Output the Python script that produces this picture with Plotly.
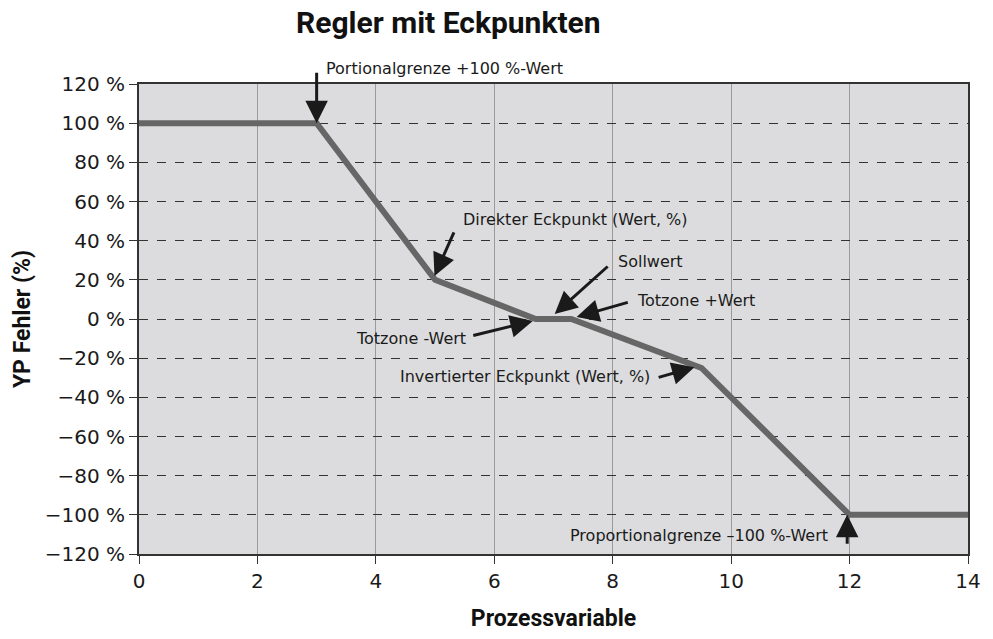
import plotly.graph_objects as go

# Controller characteristic with break points
pv = [0, 3, 5, 6.7, 7.3, 9.5, 12, 14]
yp_error = [100, 100, 20, 0, 0, -25, -100, -100]

x_ticks = [0, 2, 4, 6, 8, 10, 12, 14]
y_ticks = [120, 100, 80, 60, 40, 20, 0, -20, -40, -60, -80, -100, -120]
y_tick_text = [f"{v} %" if v >= 0 else f"\u2212{abs(v)} %" for v in y_ticks]

# (label, head x, head y, tail x, tail y, text x, text y, text anchor)
callouts = [
    ("Direkter Eckpunkt (Wert, %)", 4.99, 22, 5.33, 45, 5.43, 51, "left"),
    ("Sollwert", 7.02, 2.5, 7.94, 27.5, 8.06, 29.5, "left"),
    ("Totzone +Wert", 7.39, 1, 8.28, 8.7, 8.38, 9.7, "left"),
    ("Totzone -Wert", 6.65, -1, 5.62, -8.6, 5.55, -9.7, "right"),
    ("Invertierter Eckpunkt (Wert, %)", 9.38, -24.6, 8.75, -30, 8.67, -29.5, "right"),
    ("Proportionalgrenze \u2013100 %-Wert", 11.96, -100, 11.96, -115.5, 11.67, -110.4, "right"),
]
top_label = "Portionalgrenze +100 %-Wert"

fig = go.Figure()
fig.add_trace(go.Scatter(
    x=pv, y=yp_error, mode="lines",
    line=dict(color="#666666", width=6),
    hoverinfo="skip", showlegend=False,
))

tick_font = dict(family="DejaVu Sans, sans-serif", size=20, color="#1a1a1a")
note_font = dict(family="DejaVu Sans, sans-serif", size=16, color="#1a1a1a")
bold_font = dict(family="Roboto, sans-serif", size=23, color="#111111")

arrow_style = dict(showarrow=True, arrowhead=2, arrowsize=1.5, arrowwidth=3,
                   arrowcolor="#1a1a1a", text="")

annotations = []
for label, hx, hy, tx, ty, lx, ly, anchor in callouts:
    annotations.append(dict(
        x=hx, y=hy, ax=tx, ay=ty, xref="x", yref="y", axref="x", ayref="y",
        **arrow_style,
    ))
    annotations.append(dict(
        x=lx, y=ly, xref="x", yref="y", text=label, showarrow=False,
        xanchor=anchor, yanchor="middle", font=note_font,
    ))

# Upper proportional limit: arrow from above the plot down onto the corner
annotations.append(dict(
    x=3.0, y=100, ax=0, ay=-52, xref="x", yref="y", axref="pixel", ayref="pixel",
    **arrow_style,
))
annotations.append(dict(
    x=3.12, y=1.034, xref="x", yref="paper", text=top_label, showarrow=False,
    xanchor="left", yanchor="middle", font=note_font,
))

annotations.append(dict(
    text="<b>Regler mit Eckpunkten</b>", x=(449 - 139) / 830, y=1 + 62 / 472,
    xref="paper", yref="paper", showarrow=False, xanchor="center",
    yanchor="middle", font=dict(family="Roboto, sans-serif", size=30, color="#111111"),
))

fig.update_layout(
    width=993, height=639,
    margin=dict(l=139, r=24, t=84, b=83),
    paper_bgcolor="white",
    plot_bgcolor="#dcdcde",
    annotations=annotations,
)

fig.update_xaxes(
    range=[0, 14], tickvals=x_ticks, ticks="outside", ticklen=8,
    tickcolor="#333333", tickfont=tick_font,
    showgrid=True, gridcolor="#9a9a9a", gridwidth=1,
    showline=True, linecolor="#333333", linewidth=2, mirror=True,
    zeroline=False,
    title=dict(text="<b>Prozessvariable</b>", font=bold_font, standoff=18),
)
fig.update_yaxes(
    range=[-120, 120], tickvals=y_ticks, ticktext=y_tick_text,
    ticks="outside", ticklen=8, tickcolor="#333333", tickfont=tick_font,
    showgrid=True, gridcolor="#333333", gridwidth=1, griddash="dash",
    showline=True, linecolor="#333333", linewidth=2, mirror=True,
    zeroline=False,
    title=dict(text="<b>YP Fehler (%)</b>", font=bold_font, standoff=8),
)

fig.write_html("out.html")
